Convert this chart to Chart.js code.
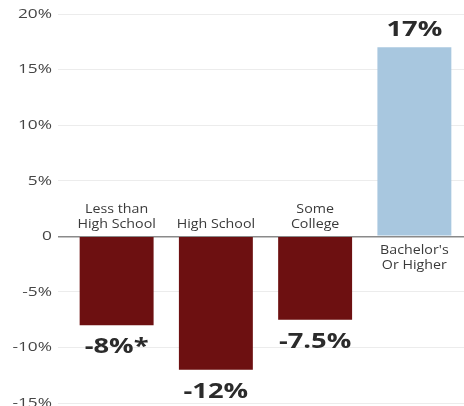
<!DOCTYPE html>
<html>
<head>
<meta charset="utf-8">
<script src="https://cdn.jsdelivr.net/npm/chart.js@4"></script>
<style>
    html, body { margin: 0; padding: 0; background: #fff; overflow: hidden; }
    #wrap { position: relative; width: 464px; height: 417px; }
</style>
</head>
<body>
<div id="wrap"><canvas id="grafico"></canvas></div>
<script>
// datos
const categorias = [['Less than', 'High School'], ['High School'], ['Some', 'College'], ["Bachelor's", 'Or Higher']];
const valores = [-8, -12, -7.5, 17];
const notas = ['*', '', '', ''];
const colores = ['#6d1011', '#6d1011', '#6d1011', '#a8c7df'];
const yMin = -15;
const yMax = 20;
const yPaso = 5;

// la imagen original esta algo estirada a lo ancho
function textoAncho(ctx, texto, x, y, align, estiro) {
    ctx.save();
    ctx.translate(x, y);
    ctx.scale(estiro, 1);
    ctx.textAlign = align;
    ctx.fillText(texto, 0, 0);
    ctx.restore();
}

const etiquetasPlugin = {
    id: 'etiquetas',
    afterDatasetsDraw(chart) {
        const ctx = chart.ctx;
        const meta = chart.getDatasetMeta(0);
        const ejeY = chart.scales.y;
        const cero = ejeY.getPixelForValue(0);
        ctx.save();
        ctx.textBaseline = 'middle';

        // etiquetas del eje y
        ctx.font = '13.5px "Open Sans"';
        ctx.fillStyle = '#454545';
        ejeY.ticks.forEach(function (t) {
            const txt = t.value === 0 ? '0' : t.value + '%';
            textoAncho(ctx, txt, 52, ejeY.getPixelForValue(t.value), 'right', 1.28);
        });

        meta.data.forEach(function (barra, i) {
            const v = valores[i];
            const lineas = categorias[i];
            // nombre de la categoria junto a la linea del cero
            ctx.font = '12.5px "Open Sans"';
            ctx.fillStyle = '#3a3a3a';
            lineas.forEach(function (l, j) {
                let y;
                if (v < 0) {
                    y = cero - 12 - (lineas.length - 1 - j) * 15;
                } else {
                    y = cero + 14 + j * 15;
                }
                textoAncho(ctx, l, barra.x, y, 'center', 1.14);
            });
            // valor
            ctx.font = 'bold 21px "Open Sans"';
            ctx.fillStyle = '#2b2b2b';
            const texto = v + '%' + notas[i];
            const yv = v < 0 ? barra.y + 22 : barra.y - 17;
            textoAncho(ctx, texto, barra.x, yv, 'center', 1.3);
        });
        ctx.restore();
    }
};

const ctx = document.getElementById('grafico').getContext('2d');
new Chart(ctx, {
    type: 'bar',
    data: {
        labels: categorias,
        datasets: [{
            data: valores,
            backgroundColor: colores,
            borderWidth: 0,
            barPercentage: 0.745,
            categoryPercentage: 1
        }]
    },
    options: {
        responsive: true,
        maintainAspectRatio: false,
        animation: false,
        layout: { padding: { top: 14, right: 0, bottom: 0, left: 0 } },
        plugins: {
            legend: { display: false },
            tooltip: { enabled: false }
        },
        scales: {
            x: { display: false },
            y: {
                min: yMin,
                max: yMax,
                ticks: {
                    stepSize: yPaso,
                    padding: 5,
                    color: 'rgba(0,0,0,0)',
                    font: { family: 'Open Sans', size: 15 },
                    callback: function (v) { return v === 0 ? '0' : v + '%'; }
                },
                grid: {
                    tickLength: 9,
                    color: function (c) { return c.tick && c.tick.value === 0 ? '#8a8a8a' : '#ececec'; },
                    lineWidth: function (c) { return c.tick && c.tick.value === 0 ? 1.5 : 1; }
                },
                border: { display: false },
                afterFit: function (s) { s.width = 67; }
            }
        }
    },
    plugins: [etiquetasPlugin]
});
</script>
</body>
</html>
